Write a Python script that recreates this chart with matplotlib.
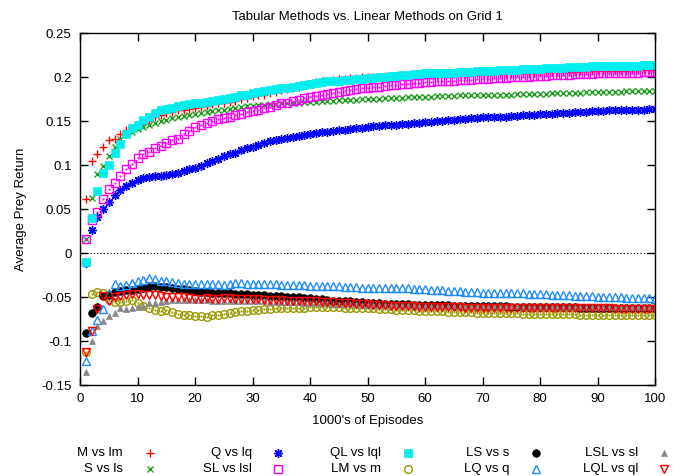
import numpy as np
import matplotlib
matplotlib.use('Agg')
import matplotlib.pyplot as plt
from matplotlib.lines import Line2D

plt.rcParams['font.family'] = ['Liberation Sans', 'DejaVu Sans']

episodes = list(range(1, 101))

m_vs_lm = [
    0.061, 0.105, 0.113, 0.121, 0.128, 0.130, 0.135, 0.140, 0.142, 0.144,
    0.147, 0.150, 0.154, 0.157, 0.159, 0.160, 0.162, 0.163, 0.164, 0.165,
    0.166, 0.167, 0.169, 0.170, 0.171, 0.172, 0.173, 0.175, 0.176, 0.178,
    0.179, 0.180, 0.182, 0.183, 0.185, 0.186, 0.188, 0.189, 0.191, 0.192,
    0.194, 0.195, 0.196, 0.197, 0.198, 0.198, 0.199, 0.199, 0.200, 0.200,
    0.200, 0.200, 0.201, 0.201, 0.201, 0.201, 0.202, 0.202, 0.202, 0.202,
    0.202, 0.202, 0.203, 0.203, 0.203, 0.203, 0.203, 0.204, 0.204, 0.204,
    0.204, 0.204, 0.204, 0.205, 0.205, 0.205, 0.205, 0.205, 0.205, 0.206,
    0.206, 0.206, 0.206, 0.206, 0.206, 0.206, 0.207, 0.207, 0.207, 0.207,
    0.207, 0.207, 0.207, 0.207, 0.207, 0.208, 0.208, 0.208, 0.208, 0.208]

s_vs_ls = [
    0.016, 0.062, 0.090, 0.099, 0.110, 0.120, 0.129, 0.135, 0.138, 0.141,
    0.143, 0.145, 0.148, 0.150, 0.151, 0.153, 0.154, 0.156, 0.157, 0.158,
    0.159, 0.160, 0.161, 0.162, 0.163, 0.164, 0.165, 0.166, 0.167, 0.167,
    0.168, 0.168, 0.169, 0.169, 0.170, 0.170, 0.171, 0.171, 0.172, 0.172,
    0.172, 0.173, 0.173, 0.173, 0.174, 0.174, 0.174, 0.174, 0.175, 0.175,
    0.175, 0.175, 0.176, 0.176, 0.176, 0.176, 0.177, 0.177, 0.177, 0.177,
    0.177, 0.178, 0.178, 0.178, 0.178, 0.179, 0.179, 0.179, 0.179, 0.179,
    0.180, 0.180, 0.180, 0.180, 0.180, 0.181, 0.181, 0.181, 0.181, 0.181,
    0.181, 0.182, 0.182, 0.182, 0.182, 0.182, 0.182, 0.183, 0.183, 0.183,
    0.183, 0.183, 0.183, 0.183, 0.184, 0.184, 0.184, 0.184, 0.184, 0.184]

q_vs_lq = [
    -0.011, 0.026, 0.041, 0.050, 0.058, 0.066, 0.072, 0.076, 0.080, 0.083,
    0.085, 0.086, 0.087, 0.088, 0.089, 0.090, 0.091, 0.093, 0.095, 0.097,
    0.099, 0.102, 0.104, 0.107, 0.110, 0.112, 0.114, 0.117, 0.119, 0.121,
    0.123, 0.125, 0.127, 0.128, 0.130, 0.131, 0.132, 0.133, 0.134, 0.135,
    0.136, 0.137, 0.138, 0.139, 0.140, 0.140, 0.141, 0.142, 0.142, 0.143,
    0.144, 0.144, 0.145, 0.145, 0.146, 0.147, 0.147, 0.148, 0.148, 0.149,
    0.149, 0.150, 0.150, 0.151, 0.151, 0.152, 0.152, 0.153, 0.153, 0.154,
    0.154, 0.155, 0.155, 0.155, 0.156, 0.156, 0.157, 0.157, 0.157, 0.158,
    0.158, 0.158, 0.159, 0.159, 0.159, 0.160, 0.160, 0.160, 0.161, 0.161,
    0.161, 0.162, 0.162, 0.162, 0.162, 0.163, 0.163, 0.163, 0.164, 0.164]

sl_vs_lsl = [
    0.016, 0.038, 0.047, 0.061, 0.073, 0.080, 0.088, 0.095, 0.101, 0.108,
    0.112, 0.115, 0.119, 0.122, 0.125, 0.128, 0.130, 0.135, 0.139, 0.143,
    0.146, 0.148, 0.150, 0.152, 0.153, 0.155, 0.157, 0.158, 0.160, 0.161,
    0.163, 0.165, 0.166, 0.168, 0.170, 0.171, 0.173, 0.174, 0.176, 0.177,
    0.178, 0.180, 0.181, 0.182, 0.183, 0.184, 0.185, 0.186, 0.187, 0.188,
    0.189, 0.189, 0.190, 0.191, 0.191, 0.192, 0.192, 0.193, 0.193, 0.194,
    0.194, 0.195, 0.195, 0.196, 0.196, 0.197, 0.197, 0.197, 0.198, 0.198,
    0.198, 0.199, 0.199, 0.199, 0.200, 0.200, 0.200, 0.200, 0.201, 0.201,
    0.201, 0.202, 0.202, 0.202, 0.202, 0.203, 0.203, 0.203, 0.203, 0.204,
    0.204, 0.204, 0.204, 0.205, 0.205, 0.205, 0.205, 0.206, 0.206, 0.206]

ql_vs_lql = [
    -0.010, 0.040, 0.071, 0.091, 0.100, 0.114, 0.124, 0.135, 0.142, 0.146,
    0.151, 0.155, 0.159, 0.162, 0.164, 0.165, 0.167, 0.168, 0.169, 0.170,
    0.171, 0.172, 0.173, 0.174, 0.175, 0.176, 0.177, 0.179, 0.180, 0.182,
    0.183, 0.184, 0.185, 0.186, 0.187, 0.188, 0.189, 0.190, 0.191, 0.192,
    0.193, 0.194, 0.195, 0.195, 0.196, 0.197, 0.197, 0.198, 0.198, 0.199,
    0.199, 0.200, 0.200, 0.201, 0.201, 0.202, 0.202, 0.203, 0.203, 0.204,
    0.204, 0.204, 0.205, 0.205, 0.205, 0.206, 0.206, 0.206, 0.207, 0.207,
    0.207, 0.207, 0.208, 0.208, 0.208, 0.208, 0.209, 0.209, 0.209, 0.209,
    0.210, 0.210, 0.210, 0.210, 0.211, 0.211, 0.211, 0.211, 0.212, 0.212,
    0.212, 0.212, 0.213, 0.213, 0.213, 0.213, 0.213, 0.214, 0.214, 0.214]

lm_vs_m = [
    -0.112, -0.047, -0.044, -0.046, -0.053, -0.056, -0.056, -0.054, -0.053, -0.057,
    -0.060, -0.063, -0.065, -0.066, -0.065, -0.067, -0.069, -0.070, -0.071, -0.072,
    -0.072, -0.073, -0.071, -0.070, -0.069, -0.068, -0.067, -0.066, -0.066, -0.065,
    -0.065, -0.064, -0.064, -0.063, -0.063, -0.062, -0.062, -0.062, -0.062, -0.061,
    -0.061, -0.061, -0.061, -0.061, -0.061, -0.062, -0.062, -0.062, -0.063, -0.063,
    -0.063, -0.064, -0.064, -0.064, -0.065, -0.065, -0.065, -0.065, -0.066, -0.066,
    -0.066, -0.066, -0.066, -0.067, -0.067, -0.067, -0.067, -0.067, -0.068, -0.068,
    -0.068, -0.068, -0.068, -0.068, -0.068, -0.068, -0.069, -0.069, -0.069, -0.069,
    -0.069, -0.069, -0.069, -0.069, -0.069, -0.069, -0.070, -0.070, -0.070, -0.070,
    -0.070, -0.070, -0.070, -0.070, -0.070, -0.070, -0.070, -0.070, -0.070, -0.070]

ls_vs_s = [
    -0.091, -0.068, -0.061, -0.049, -0.048, -0.044, -0.043, -0.042, -0.042, -0.041,
    -0.040, -0.039, -0.038, -0.039, -0.039, -0.040, -0.041, -0.041, -0.042, -0.043,
    -0.044, -0.044, -0.045, -0.045, -0.046, -0.046, -0.047, -0.047, -0.047, -0.048,
    -0.048, -0.048, -0.049, -0.049, -0.049, -0.050, -0.050, -0.050, -0.051, -0.051,
    -0.052, -0.052, -0.053, -0.054, -0.054, -0.055, -0.055, -0.056, -0.056, -0.057,
    -0.057, -0.057, -0.058, -0.058, -0.058, -0.058, -0.058, -0.059, -0.059, -0.059,
    -0.059, -0.059, -0.059, -0.059, -0.060, -0.060, -0.060, -0.060, -0.060, -0.060,
    -0.060, -0.060, -0.060, -0.060, -0.061, -0.061, -0.061, -0.061, -0.061, -0.061,
    -0.061, -0.061, -0.061, -0.061, -0.061, -0.061, -0.062, -0.062, -0.062, -0.062,
    -0.062, -0.062, -0.062, -0.062, -0.062, -0.062, -0.062, -0.062, -0.062, -0.062]

lq_vs_q = [
    -0.123, -0.089, -0.076, -0.064, -0.046, -0.035, -0.037, -0.036, -0.034, -0.032,
    -0.031, -0.028, -0.030, -0.032, -0.032, -0.033, -0.034, -0.035, -0.035, -0.035,
    -0.035, -0.035, -0.035, -0.035, -0.036, -0.035, -0.034, -0.034, -0.035, -0.035,
    -0.035, -0.035, -0.035, -0.035, -0.036, -0.036, -0.036, -0.036, -0.036, -0.037,
    -0.037, -0.037, -0.038, -0.038, -0.038, -0.039, -0.039, -0.039, -0.040, -0.040,
    -0.040, -0.040, -0.040, -0.040, -0.040, -0.040, -0.040, -0.041, -0.041, -0.041,
    -0.042, -0.042, -0.042, -0.043, -0.043, -0.043, -0.044, -0.044, -0.044, -0.045,
    -0.045, -0.045, -0.045, -0.046, -0.046, -0.046, -0.046, -0.047, -0.047, -0.047,
    -0.047, -0.048, -0.048, -0.048, -0.048, -0.049, -0.049, -0.049, -0.049, -0.050,
    -0.050, -0.050, -0.050, -0.050, -0.051, -0.051, -0.051, -0.051, -0.051, -0.052]

lsl_vs_sl = [
    -0.135, -0.100, -0.083, -0.077, -0.072, -0.068, -0.063, -0.064, -0.063, -0.061,
    -0.060, -0.057, -0.057, -0.056, -0.054, -0.053, -0.053, -0.053, -0.053, -0.053,
    -0.053, -0.053, -0.054, -0.054, -0.054, -0.054, -0.055, -0.055, -0.055, -0.055,
    -0.055, -0.055, -0.056, -0.056, -0.056, -0.056, -0.056, -0.056, -0.057, -0.057,
    -0.057, -0.057, -0.057, -0.058, -0.058, -0.058, -0.058, -0.058, -0.059, -0.059,
    -0.059, -0.059, -0.059, -0.059, -0.059, -0.059, -0.059, -0.059, -0.060, -0.060,
    -0.060, -0.060, -0.060, -0.060, -0.060, -0.060, -0.060, -0.060, -0.060, -0.060,
    -0.060, -0.060, -0.060, -0.060, -0.060, -0.060, -0.061, -0.061, -0.061, -0.061,
    -0.061, -0.061, -0.061, -0.061, -0.061, -0.061, -0.061, -0.061, -0.061, -0.061,
    -0.061, -0.061, -0.061, -0.061, -0.061, -0.061, -0.061, -0.061, -0.061, -0.061]

lql_vs_ql = [
    -0.112, -0.089, -0.064, -0.049, -0.054, -0.050, -0.049, -0.048, -0.047, -0.047,
    -0.048, -0.048, -0.048, -0.049, -0.050, -0.050, -0.050, -0.050, -0.051, -0.052,
    -0.052, -0.051, -0.052, -0.052, -0.051, -0.051, -0.052, -0.052, -0.052, -0.052,
    -0.052, -0.053, -0.053, -0.053, -0.053, -0.054, -0.054, -0.054, -0.055, -0.055,
    -0.055, -0.056, -0.056, -0.056, -0.057, -0.057, -0.057, -0.058, -0.058, -0.058,
    -0.059, -0.059, -0.059, -0.060, -0.060, -0.060, -0.060, -0.060, -0.061, -0.061,
    -0.061, -0.061, -0.061, -0.061, -0.061, -0.061, -0.062, -0.062, -0.062, -0.062,
    -0.062, -0.062, -0.062, -0.062, -0.062, -0.062, -0.062, -0.063, -0.063, -0.063,
    -0.063, -0.063, -0.063, -0.063, -0.063, -0.063, -0.063, -0.063, -0.063, -0.063,
    -0.063, -0.063, -0.064, -0.064, -0.064, -0.064, -0.064, -0.064, -0.064, -0.064]

labels = ['M vs lm', 'S vs ls', 'Q vs lq', 'SL vs lsl', 'QL vs lql',
          'LM vs m', 'LS vs s', 'LQ vs q', 'LSL vs sl', 'LQL vs ql']
series = [m_vs_lm, s_vs_ls, q_vs_lq, sl_vs_lsl, ql_vs_lql,
          lm_vs_m, ls_vs_s, lq_vs_q, lsl_vs_sl, lql_vs_ql]

# gnuplot-ish point styles
styles = [
    dict(marker='+', color='#ff0000', mfc='#ff0000', ms=6, mew=1.0),
    dict(marker='x', color='#1e9e1e', mfc='#1e9e1e', ms=5, mew=1.0),
    dict(marker=(8, 2, 0), color='#0000ff', mfc='#0000ff', ms=6.5, mew=1.0),
    dict(marker='s', color='#ff00ff', mfc='none', ms=5.5, mew=1.0),
    dict(marker='s', color='#00eeee', mfc='#00eeee', ms=5.5, mew=0.5),
    dict(marker='o', color='#999900', mfc='none', ms=5.5, mew=1.0),
    dict(marker='o', color='#000000', mfc='#000000', ms=5.5, mew=0.5),
    dict(marker='^', color='#1e8cff', mfc='none', ms=5.5, mew=1.0),
    dict(marker='^', color='#888888', mfc='#888888', ms=5, mew=0.5),
    dict(marker='v', color='#ff0000', mfc='none', ms=5.5, mew=1.0),
]

fs = 9.5

fig = plt.figure(figsize=(6.81, 4.76), dpi=100)
ax = fig.add_axes([80 / 681, 1 - 385 / 476, 575 / 681, 352 / 476])

for vals, st in zip(series, styles):
    ax.plot(episodes, vals, linestyle='none', marker=st['marker'], color=st['color'],
            markerfacecolor=st['mfc'], markersize=st['ms'], markeredgewidth=st['mew'])
    # gnuplot puts a dot in the middle of open squares / circles
    if st['mfc'] == 'none' and st['marker'] in ('s', 'o'):
        ax.plot(episodes, vals, linestyle='none', marker='.', color=st['color'], markersize=1.2)

ax.axhline(0, color='black', linestyle=(0, (1, 2)), linewidth=0.8)

ax.set_xlim(0, 100)
ax.set_ylim(-0.15, 0.25)
ax.set_xticks(range(0, 101, 10))
ax.set_yticks([-0.15, -0.1, -0.05, 0, 0.05, 0.1, 0.15, 0.2, 0.25])
ax.set_yticklabels(['-0.15', '-0.1', '-0.05', '0', '0.05', '0.1', '0.15', '0.2', '0.25'])
ax.tick_params(direction='in', top=True, right=True, length=6, width=1, labelsize=fs, pad=6)
for sp in ax.spines.values():
    sp.set_linewidth(1)

ax.set_title('Tabular Methods vs. Linear Methods on Grid 1', fontsize=fs, pad=9.5)
ax.set_xlabel("1000's of Episodes", fontsize=fs, labelpad=7)
ax.set_ylabel('Average Prey Return', fontsize=fs, labelpad=10)

# key at the bottom: text right-aligned, sample point to its right
text_right = [123, 252, 381, 509, 638]
mark_x = [150, 278, 408, 536, 664]
row_y = [453, 469]
for k, (lab, st) in enumerate(zip(labels, styles)):
    col, row = k // 2, k % 2
    fy = 1 - row_y[row] / 476
    fig.text(text_right[col] / 681, fy, lab, ha='right', va='center', fontsize=fs)
    fig.add_artist(Line2D([mark_x[col] / 681], [fy], transform=fig.transFigure,
                          linestyle='none', marker=st['marker'], color=st['color'],
                          markerfacecolor=st['mfc'], markersize=st['ms'],
                          markeredgewidth=st['mew']))

fig.savefig('out.png', dpi=100)
